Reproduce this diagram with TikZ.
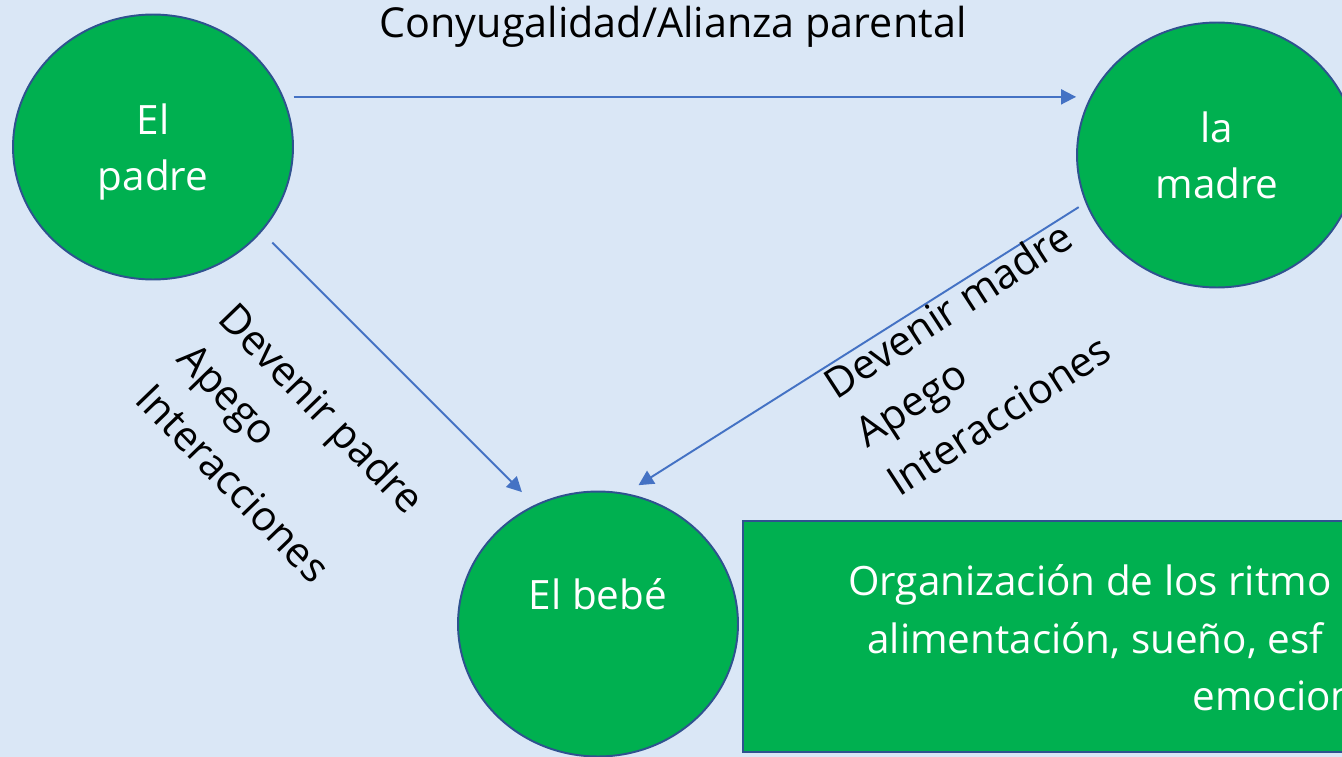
\documentclass[tikz,border=0pt]{standalone}
\usepackage{fontspec}
\setmainfont{Open Sans}
\usetikzlibrary{shapes.geometric, arrows.meta}
\definecolor{fondo}{RGB}{218,231,246}
\definecolor{verde}{RGB}{0,176,80}
\definecolor{borde}{RGB}{47,82,143}
\definecolor{flecha}{RGB}{68,114,196}
\tikzset{x=0.02cm, y=-0.02cm, % one unit is one pixel of the slide
persona/.style={ % Sets the properties for each person
ellipse, draw=borde, line width=1.1pt, fill=verde, text=white,
minimum width=5.6cm, minimum height=5.3cm, inner sep=0pt,
align=center, font=\fontsize{23}{32}\selectfont},
etiqueta/.style={ % Text along the arrows
inner sep=0pt, align=left, font=\fontsize{23.5}{33}\selectfont},
caja/.style={ % The green box at the bottom
rectangle, draw=borde, line width=1.1pt, fill=verde,
minimum width=15.14cm, minimum height=4.62cm, inner sep=0pt},
textocaja/.style={
inner sep=0pt, anchor=base west, text=white, font=\fontsize{23}{32}\selectfont},
enlace/.style={ % Sets the properties for each arrow
draw=flecha, line width=1.1pt, -{Triangle[length=0.3cm,width=0.3cm]}}}

\begin{document}
\begin{tikzpicture}
    \useasboundingbox (0,0) rectangle (1342,757);
    \clip (0,0) rectangle (1342,757);
    \fill[fondo] (0,0) rectangle (1342,757);

    \node[persona, text height=1.95cm] (padre) at (153,147) {El\\padre};
    \node[persona] (madre) at (1217,155) {la\\madre};
    \node[persona, text depth=1.2cm] (bebe) at (598,624) {El bebé};
    \node[caja] (ritmos) at (1121.5,636.5) {};

    \node[textocaja] (linea1) at (848,595) {Organización de los ritmo};
    \node[textocaja] (linea2) at (867,653) {alimentación, sueño, esf};
    \node[textocaja] (linea3) at (1192,710) {emocion};

    \draw[enlace, shorten <=0.2cm] (padre.21) -- (madre.west |- padre.21);
    \draw[enlace, shorten <=0.3cm, shorten >=0.36cm] (padre.-38) -- (bebe.118);
    \draw[enlace, shorten <=0.16cm, shorten >=0.3cm] (madre.200) -- (bebe.78);

    \node[etiqueta, anchor=base] (alianza) at (673,38) {Conyugalidad/Alianza parental};
    \node[etiqueta, rotate=-46] (devpadre) at (281,448) {Devenir padre\\Apego\\Interacciones};
    \node[etiqueta, rotate=33] (devmadre) at (979,358) {Devenir madre\\Apego\\Interacciones};

\end{tikzpicture}
\end{document}
